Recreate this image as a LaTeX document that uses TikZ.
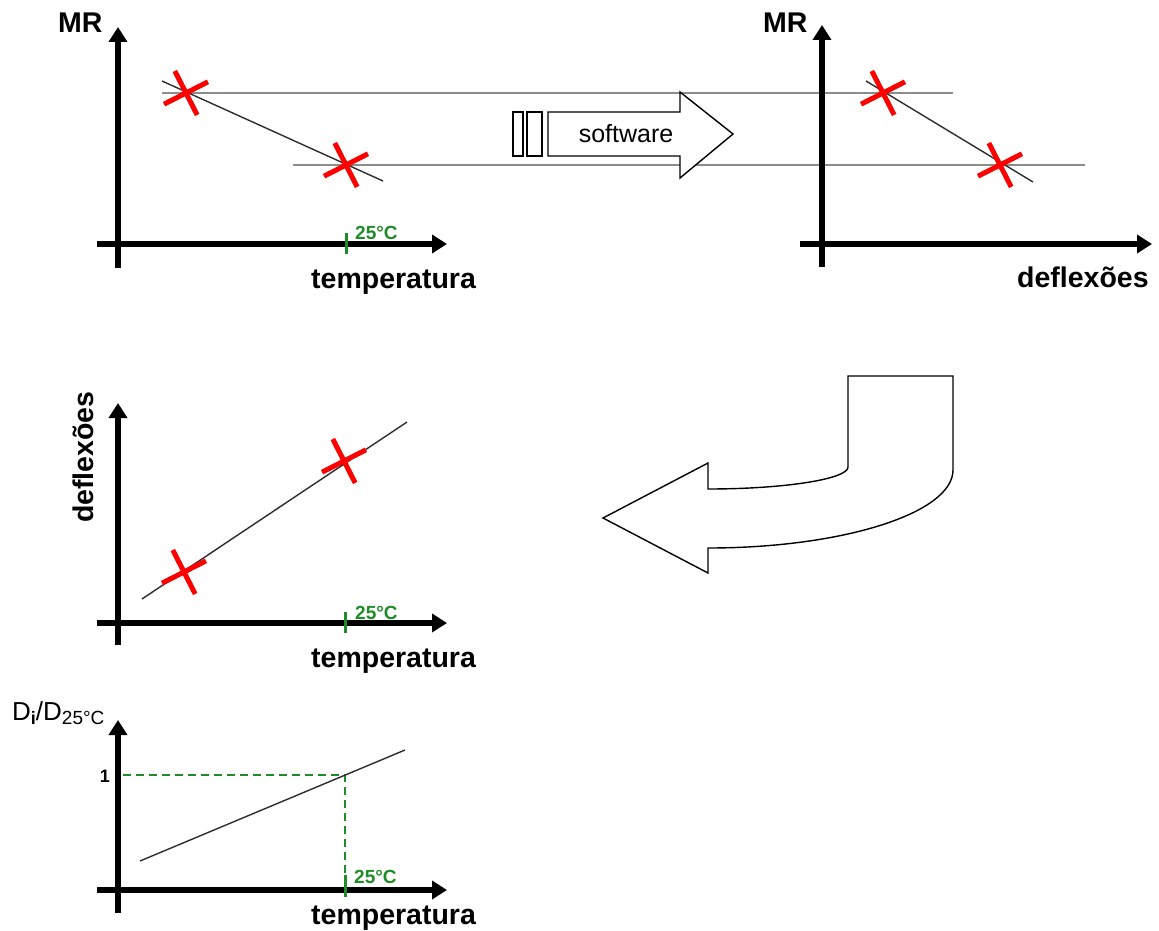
\documentclass[tikz,border=0pt]{standalone}
\usepackage{fontspec}
\setmainfont{Liberation Sans}
\usetikzlibrary{arrows.meta,calc}
\definecolor{crossred}{RGB}{255,0,0}
\definecolor{tempgreen}{RGB}{30,140,40}
\definecolor{guidegray}{RGB}{140,140,140}
\definecolor{fitgray}{RGB}{45,45,45}
\begin{document}
\begin{tikzpicture}[x=1pt,y=-1pt,
  axis/.style={line width=5.2pt,-{Triangle[length=15pt,width=18pt]}},
  fitline/.style={draw=fitgray,line width=1.4pt},
  guide/.style={draw=guidegray,line width=1.4pt},
  cross/.style={draw=crossred,line width=5pt},
  tick25/.style={draw=tempgreen,line width=3pt},
  refline/.style={draw=tempgreen,line width=1.6pt,dash pattern=on 8pt off 5pt},
  axlabel/.style={font=\fontsize{28.5}{30}\selectfont\bfseries,inner sep=0pt,anchor=base west},
  templabel/.style={font=\fontsize{19}{20}\selectfont\bfseries,text=tempgreen,inner sep=0pt,anchor=base west},
  outline/.style={draw=black,line width=1.4pt,fill=white,line join=miter},
  xmark/.pic={\draw[cross] (-22,11.2) -- (22,-11.2) (-11.2,-22) -- (11.2,22);}
]
\useasboundingbox (0,0) rectangle (1159,931);

% ---------- guide lines linking the two upper graphs ----------
\coordinate (gA1) at (162,93);  \coordinate (gA2) at (953,93);
\coordinate (gB1) at (293,165); \coordinate (gB2) at (1085,165);
\draw[guide] (gA1) -- (gA2);
\draw[guide] (gB1) -- (gB2);

% ---------- graph 1: MR vs temperatura ----------
\coordinate (g1yb) at (118,268); \coordinate (g1yt) at (118,27);
\coordinate (g1xl) at (97,244);  \coordinate (g1xr) at (447,244);
\coordinate (g1ta) at (346,233); \coordinate (g1tb) at (346,254);
\coordinate (g1fa) at (162,81);  \coordinate (g1fb) at (383,181);
\draw[axis] (g1yb) -- (g1yt);
\draw[axis] (g1xl) -- (g1xr);
\draw[fitline] (g1fa) -- (g1fb);
\pic at (186,93) {xmark};
\pic at (346,165) {xmark};
\draw[tick25] (g1ta) -- (g1tb);
\node[templabel] (g1t) at (355,239) {25°C};
\node[axlabel] (g1mr) at (58,33) {MR};
\node[axlabel] (g1x) at (311,288) {temperatura};

% ---------- software arrow ----------
\draw[outline] (513,112) rectangle (523,156);
\draw[outline] (527,112) rectangle (542,156);
\draw[outline] (548,112) -- (680,112) -- (680,92) -- (733,134)
  -- (680,178) -- (680,156) -- (548,156) -- cycle;
\node[font=\fontsize{25}{27}\selectfont,inner sep=0pt] (sw) at (626,134) {software};

% ---------- graph 2: MR vs deflexões ----------
\coordinate (g2yb) at (822,267); \coordinate (g2yt) at (822,25);
\coordinate (g2xl) at (800,244); \coordinate (g2xr) at (1152,244);
\coordinate (g2fa) at (866,81);  \coordinate (g2fb) at (1033,182);
\draw[axis] (g2yb) -- (g2yt);
\draw[axis] (g2xl) -- (g2xr);
\draw[fitline] (g2fa) -- (g2fb);
\pic at (883,93) {xmark};
\pic at (1000,165) {xmark};
\node[axlabel] (g2mr) at (763,33) {MR};
\node[axlabel] (g2x) at (1017,287) {deflexões};

% ---------- bent return arrow ----------
\draw[outline] (848,376) -- (953,376) -- (953,470)
  .. controls (953,513) and (843,548) .. (708,548)
  -- (708,573) -- (603,518) -- (708,463) -- (708,489)
  .. controls (785,489) and (848,479) .. (848,467) -- cycle;

% ---------- graph 3: deflexões vs temperatura ----------
\coordinate (g3yb) at (118,645); \coordinate (g3yt) at (118,403);
\coordinate (g3xl) at (97,623);  \coordinate (g3xr) at (447,623);
\coordinate (g3ta) at (345,612); \coordinate (g3tb) at (345,633);
\coordinate (g3fa) at (142,599); \coordinate (g3fb) at (407,422);
\draw[axis] (g3yb) -- (g3yt);
\draw[axis] (g3xl) -- (g3xr);
\draw[fitline] (g3fa) -- (g3fb);
\pic at (184,572) {xmark};
\pic at (344,461) {xmark};
\draw[tick25] (g3ta) -- (g3tb);
\node[templabel] (g3t) at (355,619) {25°C};
\node[axlabel,rotate=90] (g3y) at (93,523) {deflexões};
\node[axlabel] (g3x) at (311,667) {temperatura};

% ---------- graph 4: Di/D25°C vs temperatura ----------
\coordinate (g4yb) at (118,913); \coordinate (g4yt) at (118,720);
\coordinate (g4xl) at (97,890);  \coordinate (g4xr) at (447,890);
\coordinate (g4ta) at (345,875); \coordinate (g4tb) at (345,897);
\coordinate (g4fa) at (140,861); \coordinate (g4fb) at (405,750);
\coordinate (g4h1) at (123,775); \coordinate (g4c) at (345,775);
\draw[refline] (g4h1) -- (g4c) -- (g4ta);
\draw[axis] (g4yb) -- (g4yt);
\draw[axis] (g4xl) -- (g4xr);
\draw[fitline] (g4fa) -- (g4fb);
\draw[tick25] (g4ta) -- (g4tb);
\node[templabel] (g4t) at (354,883) {25°C};
\node[font=\fontsize{18}{19}\selectfont\bfseries,inner sep=0pt,anchor=base east] (g4one) at (110,782) {1};
\node[font=\fontsize{26}{27}\selectfont,inner sep=0pt,anchor=base west] (g4y) at (12,720)
  {D\raisebox{-4pt}{\fontsize{18}{18}\selectfont\bfseries i}/D\raisebox{-4pt}{\fontsize{19}{19}\selectfont 25°C}};
\node[axlabel] (g4x) at (311,924) {temperatura};

\end{tikzpicture}
\end{document}
